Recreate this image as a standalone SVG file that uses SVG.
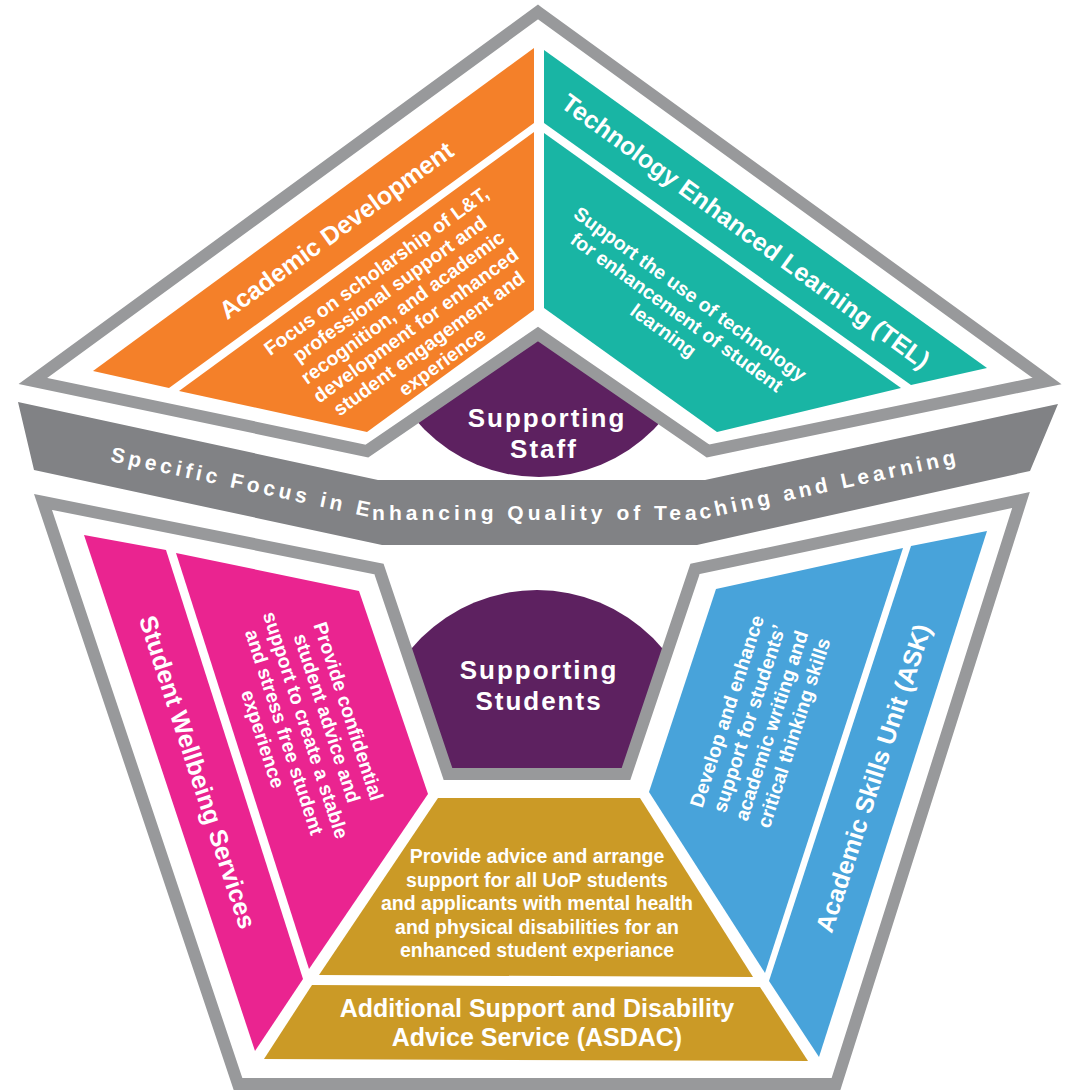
<svg xmlns="http://www.w3.org/2000/svg" width="1069" height="1091" viewBox="0 0 1069 1091">
<defs>
<style>
.t{font-family:"Liberation Sans",Arial,sans-serif;font-weight:bold;fill:#fff;text-anchor:middle}
.ti{font-size:25px}
.d{font-size:19.5px}
.p{font-size:26px;letter-spacing:2px}
.frame{fill:none;stroke:#98999b;stroke-width:12;stroke-linejoin:miter;stroke-miterlimit:10}
.purple{fill:#5d2160}
</style>
<clipPath id="clipTop"><polygon points="367,451 539,334 708,451 715,479 360,479"/></clipPath>
<clipPath id="clipBot"><polygon points="379,569 448,774 626,774 695,569"/></clipPath>
<path id="bandPath" d="M26,443 L380,519.5 L701,519.5 L1044,444.5" fill="none"/>
</defs>
<rect width="1069" height="1091" fill="#fff"/>

<g id="supporting-staff">
<circle class="purple" cx="539" cy="315" r="162" clip-path="url(#clipTop)"/>
<text class="t p" x="547" y="427">Supporting</text>
<text class="t p" x="544" y="458">Staff</text>
</g>
<g id="supporting-students">
<circle class="purple" cx="537" cy="754" r="164" clip-path="url(#clipBot)"/>
<text class="t p" x="539" y="679">Supporting</text>
<text class="t p" x="539" y="710">Students</text>
</g>

<g id="frames">
<polygon class="frame" points="538,12 1047,381 708,451 538,334 367,451 33,381"/>
<polygon class="frame" points="43,502 379,569 448,774 626,774 695,569 1021,500 836,1084 238,1084"/>
</g>

<g id="focus-band">
<polygon fill="#818285" points="18,402 378,480 705,480 1058,404 1030,471 697,545 382,545 34,470"/>
<text class="t" style="font-size:21px;letter-spacing:4px"><textPath href="#bandPath" startOffset="50%">Specific Focus in Enhancing Quality of Teaching and Learning</textPath></text>
</g>

<g id="academic-development">
<polygon fill="#f48029" points="93,371 534,48 534,123 169,388"/>
<polygon fill="#f48029" points="179,391 534,132 534,310 367,432"/>
<text class="t ti" transform="translate(336,230) rotate(-36)" y="9">Academic Development</text>
<g class="t d" transform="translate(409,316) rotate(-36)">
<text y="-49">Focus on scholarship of L&amp;T,</text>
<text y="-26.6">professional support and</text>
<text y="-4.2">recognition, and academic</text>
<text y="18.2">development for enhanced</text>
<text y="40.6">student engagement and</text>
<text y="63">experience</text>
</g>
</g>

<g id="tel">
<polygon fill="#19b5a4" points="544,50 987,368 911,385 544,123"/>
<polygon fill="#19b5a4" points="544,133 901,388 717,432 544,308"/>
<text class="t ti" transform="translate(746,231) rotate(36)" y="9">Technology Enhanced Learning (TEL)</text>
<g class="t d" transform="translate(677,312) rotate(36)">
<text y="-15.7">Support the use of technology</text>
<text y="7">for enhancement of student</text>
<text y="29.7">learning</text>
</g>
</g>

<g id="student-wellbeing">
<polygon fill="#ea2490" points="84,535 166,550 303,979 255,1051"/>
<polygon fill="#ea2490" points="176,553 359,591 428,794 309,969"/>
<text class="t ti" transform="translate(198,772) rotate(72)" y="9">Student Wellbeing Services</text>
<g class="t d" transform="translate(306,725) rotate(72)">
<text y="-38">Provide confidential</text>
<text y="-15.5">student advice and</text>
<text y="7">support to create a stable</text>
<text y="29.5">and stress free student</text>
<text y="52">experience</text>
</g>
</g>

<g id="ask">
<polygon fill="#48a3da" points="716,589 903,548 765,973 649,792"/>
<polygon fill="#48a3da" points="911,546 987,531 819,1057 769,981"/>
<text class="t ti" transform="translate(873,778) rotate(-72)" y="9">Academic Skills Unit (ASK)</text>
<g class="t d" transform="translate(760,722) rotate(-72)">
<text y="-28.1">Develop and enhance</text>
<text y="-4.7">support for students’</text>
<text y="18.7">academic writing and</text>
<text y="42.1">critical thinking skills</text>
</g>
</g>

<g id="asdac">
<polygon fill="#cb9a26" points="438,798 640,798 753,977 319,975"/>
<polygon fill="#cb9a26" points="312,985 760,987 808,1061 264,1059"/>
<g class="t d">
<text x="537" y="863">Provide advice and arrange</text>
<text x="537" y="886.5">support for all UoP students</text>
<text x="537" y="910">and applicants with mental health</text>
<text x="537" y="933.5">and physical disabilities for an</text>
<text x="537" y="957">enhanced student experiance</text>
</g>
<text class="t ti" x="537" y="1017">Additional Support and Disability</text>
<text class="t ti" x="537" y="1046">Advice Service (ASDAC)</text>
</g>
</svg>
